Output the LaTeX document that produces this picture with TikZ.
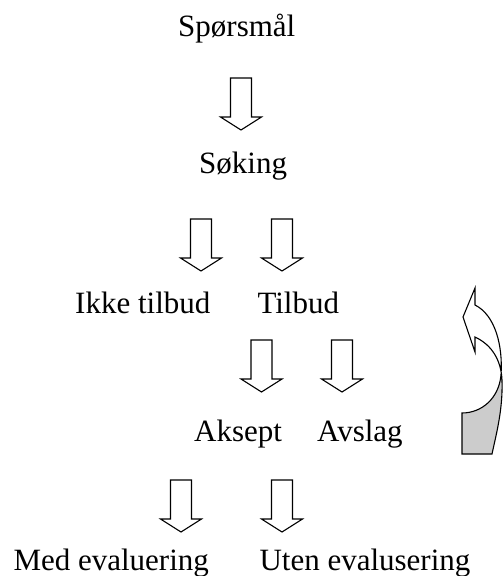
\documentclass[tikz,border=0pt]{standalone}
\usepackage{fontspec}
\setmainfont{Liberation Serif}
\tikzset{
  lbl/.style={anchor=base west, inner sep=0pt, font=\fontsize{31}{36}\selectfont},
  outline/.style={line width=1.1pt, line join=miter, draw=black},
  blockarrow/.pic={\draw[outline, fill=white] (-10.5,0) -- (10.5,0) -- (10.5,39) -- (20.5,39) -- (0,52) -- (-20.5,39) -- (-10.5,39) -- cycle;}
}
\begin{document}
\begin{tikzpicture}[x=1pt, y=-1pt]
\useasboundingbox (0,0) rectangle (503,576);
% texts
\node[lbl] (q) at (178,36.7) {Spørsmål};
\node[lbl] (s) at (199,173.3) {Søking};
\node[lbl] (ikke) at (75,313.3) {Ikke tilbud};
\node[lbl] (tilbud) at (257.3,313) {Tilbud};
\node[lbl] (aksept) at (194,441) {Aksept};
\node[lbl] (avslag) at (317,441) {Avslag};
\node[lbl] (med) at (13.3,570) {Med evaluering};
\node[lbl] (uten) at (259.3,570) {Uten evalusering};
% block arrows (tip x, top y)
\pic at (241,78) {blockarrow};
\pic at (201,219) {blockarrow};
\pic at (282,219) {blockarrow};
\pic at (261.5,340) {blockarrow};
\pic at (342,340) {blockarrow};
\pic at (181,480) {blockarrow};
\pic at (282,480) {blockarrow};
% curved arrow
\begin{scope}
  \clip (440,371) rectangle (510,460);
  \fill[gray!40] (475,305) .. controls (495,315) and (503,345) .. (501,375)
     .. controls (499,398) and (482,413) .. (462,413) -- (462,454) -- (492,454)
     .. controls (496,435) and (503,410) .. (502,380)
     .. controls (501,360) and (492,345) .. (475,337) -- cycle;
\end{scope}
\draw[outline] (475,305) .. controls (495,315) and (503,345) .. (501,375)
     .. controls (499,398) and (482,413) .. (462,413) -- (462,454) -- (492,454)
     .. controls (496,435) and (503,410) .. (502,380)
     .. controls (501,360) and (492,345) .. (475,337)
     -- (475,352) -- (463,317) -- (475,288) -- cycle;
\end{tikzpicture}
\end{document}
